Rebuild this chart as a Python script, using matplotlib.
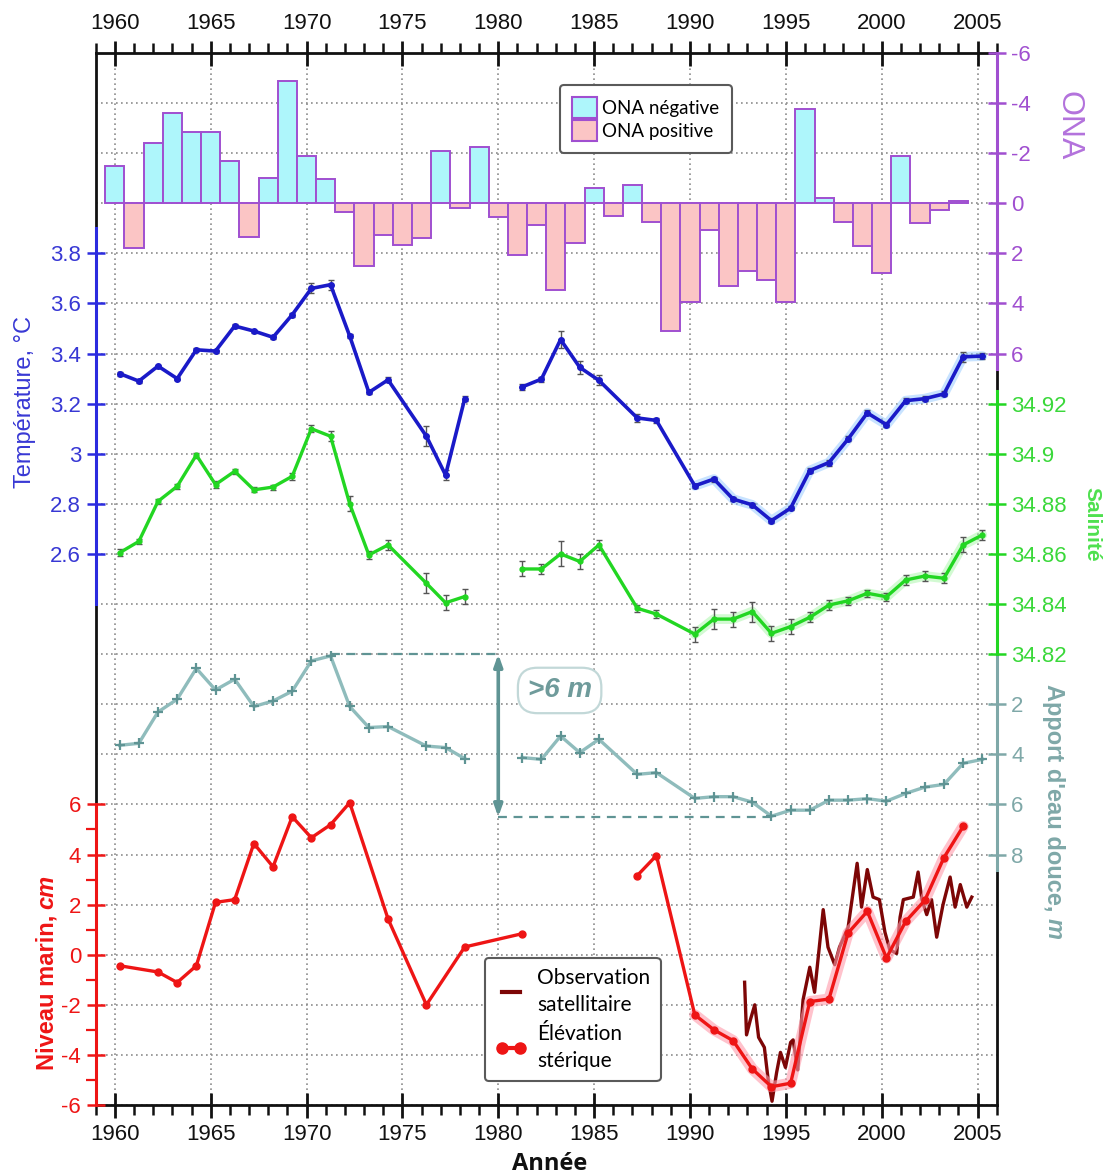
import numpy as np
import matplotlib
matplotlib.use("Agg")
import matplotlib.pyplot as plt
from matplotlib.patches import Patch
from matplotlib.lines import Line2D
from matplotlib.ticker import MultipleLocator, FixedLocator

plt.rcParams["font.family"] = ["Liberation Sans", "DejaVu Sans"]
plt.rcParams["axes.unicode_minus"] = False

# ONA index (winter), one bar per year
ona_years = list(range(1960, 2005))
ona = [-1.5, 1.8, -2.4, -3.6, -2.85, -2.85, -1.7, 1.35, -1.0, -4.9,
       -1.9, -0.95, 0.35, 2.5, 1.25, 1.65, 1.4, -2.1, 0.2, -2.25,
       0.55, 2.05, 0.85, 3.45, 1.6, -0.6, 0.5, -0.75, 0.75, 5.1,
       3.95, 1.05, 3.3, 2.7, 3.05, 3.95, -3.75, -0.2, 0.75, 1.7,
       2.8, -1.9, 0.8, 0.25, -0.08]

# hydrographic survey years (nan = no survey, breaks the line)
hydro_years = list(range(1960, 1975)) + [1976, 1977, 1978, 1980,
               1981, 1982, 1983, 1984, 1985, 1987, 1988] + list(range(1990, 2006))
nan = np.nan
temp = [3.32, 3.29, 3.35, 3.30, 3.415, 3.41, 3.51, 3.49, 3.465, 3.555,
        3.66, 3.675, 3.47, 3.245, 3.295,
        3.07, 2.915, 3.22, nan,
        3.267, 3.298, 3.456, 3.345, 3.293, 3.143, 3.133,
        2.872, 2.899, 2.819, 2.796, 2.733, 2.783, 2.933, 2.965, 3.059, 3.163,
        3.116, 3.212, 3.22, 3.239, 3.387, 3.39]
temp_err = [0.008, 0.006, 0.006, 0.006, 0.006, 0.006, 0.008, 0.006, 0.006, 0.008,
            0.02, 0.02, 0.008, 0.008, 0.01,
            0.04, 0.02, 0.01, nan,
            0.012, 0.01, 0.035, 0.025, 0.02, 0.015, 0.01,
            0.008, 0.01, 0.008, 0.008, 0.01, 0.008, 0.01, 0.012, 0.01, 0.01,
            0.01, 0.01, 0.01, 0.01, 0.02, 0.012]
salt = [34.8605, 34.865, 34.881, 34.887, 34.8995, 34.8877, 34.893, 34.8856, 34.8867, 34.891,
        34.910, 34.907, 34.880, 34.8596, 34.8636,
        34.8483, 34.8405, 34.843, nan,
        34.854, 34.854, 34.860, 34.857, 34.8636, 34.8383, 34.836,
        34.828, 34.834, 34.834, 34.837, 34.8283, 34.831, 34.8347, 34.8396, 34.8413, 34.8443,
        34.8429, 34.8496, 34.8512, 34.8503, 34.8636, 34.8676]
salt_err = [0.0015, 0.001, 0.001, 0.001, 0.001, 0.0015, 0.001, 0.001, 0.001, 0.0015,
            0.0015, 0.002, 0.003, 0.0015, 0.002,
            0.004, 0.003, 0.003, nan,
            0.003, 0.002, 0.005, 0.003, 0.002, 0.0015, 0.0015,
            0.003, 0.004, 0.003, 0.004, 0.003, 0.003, 0.002, 0.002, 0.0015, 0.0015,
            0.0015, 0.002, 0.002, 0.002, 0.003, 0.002]
freshwater = [3.64, 3.56, 2.31, 1.8, 0.57, 1.43, 1.0, 2.09, 1.87, 1.48,
              0.27, 0.07, 2.09, 2.93, 2.89,
              3.67, 3.73, 4.17, nan,
              4.13, 4.2, 3.27, 3.93, 3.4, 4.8, 4.73,
              5.76, 5.69, 5.69, 5.91, 6.47, 6.23, 6.23, 5.83, 5.83, 5.77,
              5.87, 5.56, 5.31, 5.2, 4.36, 4.2]

# steric height (cm)
sl_years = [1960, 1962, 1963, 1964, 1965, 1966, 1967, 1968, 1969, 1970, 1971, 1972,
            1974, 1976, 1978, 1981, 1984, 1987, 1988] + list(range(1990, 2005))
steric = [-0.44, -0.69, -1.11, -0.44, 2.09, 2.2, 4.44, 3.51, 5.51, 4.67, 5.19, 6.07,
          1.43, -2.0, 0.31, 0.84, nan, 3.16, 3.96,
          -2.4, -3.0, -3.43, -4.56, -5.27, -5.13, -1.87, -1.77, 0.87, 1.73,
          -0.13, 1.33, 2.17, 3.88, 5.12]

# satellite altimetry (cm)
sat_time = [1992.85, 1992.95, 1993.15, 1993.38, 1993.58, 1993.88, 1994.08, 1994.28,
            1994.52, 1994.72, 1994.98, 1995.25, 1995.38, 1995.62, 1995.9, 1996.25,
            1996.5, 1996.95, 1997.2, 1997.55, 1997.8, 1998.25, 1998.72, 1998.95,
            1999.25, 1999.55, 1999.88, 2000.17, 2000.42, 2000.78, 2000.96, 2001.13,
            2001.65, 2001.9, 2002.1, 2002.35, 2002.6, 2002.87, 2003.2, 2003.57,
            2003.83, 2004.1, 2004.44, 2004.7]
sat = [-1.1, -3.2, -2.6, -2.0, -3.3, -3.7, -5.0, -5.85, -4.7, -3.9, -4.5, -3.5,
       -3.4, -4.6, -1.8, -0.5, -1.5, 1.8, 0.3, -0.4, 0.3, 1.1, 3.65, 1.9, 3.4,
       2.3, 2.2, 0.9, 0.2, 0.05, 1.5, 2.2, 2.3, 3.3, 2.2, 1.6, 2.2, 0.7, 2.0,
       3.1, 1.9, 2.8, 1.9, 2.3]

temp_ticks = [2.6, 2.8, 3.0, 3.2, 3.4, 3.6, 3.8]
temp_labels = ["2.6", "2.8", "3", "3.2", "3.4", "3.6", "3.8"]
sl_ticks = [-6, -4, -2, 0, 2, 4, 6]
sl_minor = [-5, -3, -1, 1, 3, 5]
ona_ticks = [-6, -4, -2, 0, 2, 4, 6]
salt_ticks = [34.82, 34.84, 34.86, 34.88, 34.90, 34.92]
salt_labels = ["34.82", "34.84", "34.86", "34.88", "34.9", "34.92"]
fw_ticks = [2, 4, 6, 8]

C_TEMP, C_TEMP_LBL = "#1a1ac8", "#3838d4"
C_SALT, C_SALT_LBL = "#22d622", "#3ad83a"
C_FW, C_FW_DARK, C_FW_LBL = "#8fbcbc", "#5f9494", "#7fa8a8"
C_SL = "#ee1515"
C_SAT = "#7d0606"
C_ONA = "#a04fd0"
C_NEG, C_POS = "#aef6fb", "#fbc5c5"

W, H = 1106, 1175
fig = plt.figure(figsize=(W / 100, H / 100), dpi=100)

x0, x1, ytop, ybot = 95.7, 996.7, 53, 1105
ax = fig.add_axes([x0 / W, 1 - ybot / H, (x1 - x0) / W, (ybot - ytop) / H])
ax.set_xlim(1959, 2006)
ax.set_ylim(0, 21)
ax.set_yticks(np.arange(0, 22))
ax.xaxis.set_major_locator(MultipleLocator(5))
ax.xaxis.set_minor_locator(MultipleLocator(1))
ax.tick_params(axis="x", which="major", direction="inout", length=18, width=2,
               top=True, labeltop=True, labelsize=16, pad=5, colors="#111111")
ax.tick_params(axis="x", which="minor", direction="out", length=7, width=1.8, top=True,
               colors="#111111")
ax.grid(True, which="major", color="#8c8c8c", linestyle=(0, (1, 2)), linewidth=1.2)
for s in ax.spines.values():
    s.set_linewidth(2)
    s.set_color("#111111")


def twin(ylim, side, color, bounds, ticks, labels=None):
    t = ax.twinx()
    t.set_ylim(*ylim)
    for s in t.spines.values():
        s.set_visible(False)
    sp = t.spines[side]
    sp.set_visible(True)
    sp.set_color(color)
    sp.set_linewidth(2.2)
    sp.set_bounds(*bounds)
    sp.set_zorder(3)
    if side == "left":
        t.yaxis.tick_left()
    else:
        t.yaxis.tick_right()
    t.set_yticks(ticks)
    if labels is not None:
        t.set_yticklabels(labels)
    t.tick_params(axis="y", which="major", direction="inout", length=13, width=1.8,
                  color=color, labelsize=16, pad=4)
    return t


ax_ona = twin((36, -6), "right", C_ONA, (-6, 6.6), ona_ticks)
ax_fw = twin((18, -24), "right", C_FW_LBL, (0, 8.6), fw_ticks)
ax_salt = twin((34.64, 35.06), "right", C_SALT, (34.82, 34.925), salt_ticks, salt_labels)
ax_temp = twin((0.4, 4.6), "left", "#2b2bdf", (2.4, 3.9), temp_ticks, temp_labels)
ax_sl = twin((-6, 36), "left", C_SL, (-6, 6), sl_ticks)

# host keeps only the horizontal grid, no y ticks of its own
ax.tick_params(axis="y", which="both", left=False, right=False,
               labelleft=False, labelright=False)

for a, c in [(ax_ona, C_ONA), (ax_fw, C_FW_LBL), (ax_salt, C_SALT_LBL),
             (ax_temp, C_TEMP_LBL), (ax_sl, C_SL)]:
    for lbl in a.get_yticklabels():
        lbl.set_color(c)

ax_sl.yaxis.set_minor_locator(FixedLocator(sl_minor))
ax_sl.tick_params(axis="y", which="minor", direction="out", length=7, width=1.6,
                  color=C_SL, left=True)

# ONA bars
ona_colors = [C_NEG if v < 0 else C_POS for v in ona]
ax_ona.bar(ona_years, ona, width=1.0, color=ona_colors, edgecolor=C_ONA, linewidth=1.4)

hx = np.array(hydro_years) + 0.25
late = hx >= 1990

# freshwater
ax_fw.plot(hx, freshwater, color=C_FW, lw=2.4, marker="+", ms=7, mew=1.6,
           mec=C_FW_DARK)
ax_fw.plot([1971.25, 1980], [0, 0], color=C_FW_DARK, lw=1.6, ls=(0, (4, 3)))
ax_fw.plot([1980, 1994.3], [6.5, 6.5], color=C_FW_DARK, lw=1.6, ls=(0, (4, 3)))
ax_fw.annotate("", xy=(1980, 0.0), xytext=(1980, 6.5),
               arrowprops=dict(arrowstyle="<|-|>,head_length=0.7,head_width=0.25",
                               color=C_FW_DARK, lw=2.6, shrinkA=0, shrinkB=0))
ax_fw.text(1983.2, 1.45, ">6 m", ha="center", va="center", fontsize=20,
           fontweight="bold", style="italic", color="#6f9b9b",
           bbox=dict(boxstyle="round,pad=0.35,rounding_size=0.7", fc="white",
                     ec="#c2d8d8", lw=1.6))

# salinity
salt_a = np.array(salt)
ax_salt.plot(hx[late], salt_a[late], color="#9cf59c", lw=7, alpha=0.45,
             solid_capstyle="round")
ax_salt.errorbar(hx, salt, yerr=salt_err, color=C_SALT, lw=2.4, marker="o", ms=3.5,
                 ecolor="#555555", elinewidth=1, capsize=2.5)

# temperature
temp_a = np.array(temp)
ax_temp.plot(hx[late], temp_a[late], color="#86c2ff", lw=7, alpha=0.45,
             solid_capstyle="round")
ax_temp.errorbar(hx, temp, yerr=temp_err, color=C_TEMP, lw=2.6, marker="o", ms=4,
                 ecolor="#555555", elinewidth=1, capsize=2.5)

# sea level
slx = np.array(sl_years) + 0.25
st_a = np.array(steric)
ax_sl.plot(sat_time, sat, color=C_SAT, lw=2.4, zorder=2)
ax_sl.plot(slx[slx >= 1990], st_a[slx >= 1990], color="#ff9aaa", lw=8, alpha=0.6,
           solid_capstyle="round", zorder=3)
ax_sl.plot(slx, steric, color=C_SL, lw=2.4, marker="o", ms=5, zorder=4)

# legends
leg1 = fig.legend(handles=[Patch(facecolor=C_NEG, edgecolor=C_ONA, lw=1.5),
                           Patch(facecolor=C_POS, edgecolor=C_ONA, lw=1.5)],
                  labels=["ONA négative", "ONA positive"],
                  loc="upper left", bbox_to_anchor=(560 / W, 1 - 85 / H),
                  borderaxespad=0, prop={"family": "Lato", "size": 13.5},
                  handlelength=1.3, handleheight=1.3, handletextpad=0.3,
                  labelspacing=0.15, borderpad=0.65, fancybox=True, framealpha=1,
                  edgecolor="#5a5a5a")
leg1.get_frame().set_linewidth(1.5)
leg2 = fig.legend(handles=[Line2D([], [], color=C_SAT, lw=3),
                           Line2D([], [], color=C_SL, lw=3, marker="o", ms=8)],
                  labels=["Observation\nsatellitaire", "Élévation\nstérique"],
                  loc="upper left", bbox_to_anchor=(485 / W, 1 - 958 / H),
                  borderaxespad=0, prop={"family": "Lato", "size": 15},
                  handlelength=1.5, numpoints=2, handletextpad=0.5,
                  labelspacing=0.45, borderpad=0.5, fancybox=True, framealpha=1,
                  edgecolor="#5a5a5a")
leg2.get_frame().set_linewidth(1.5)
for txt in leg2.get_texts():
    txt.set_linespacing(1.4)

# axis titles
fig.text(25 / W, 1 - 402 / H, "Température, °C", rotation=90, ha="center", va="center",
         fontsize=17, color=C_TEMP_LBL)
fig.text(1068 / W, 1 - 126 / H, "ONA", rotation=270, ha="center", va="center",
         fontsize=23, color="#b372dc")
fig.text(1092 / W, 1 - 524 / H, "Salinité", rotation=270, ha="center", va="center",
         fontsize=15, fontweight="bold", color="#4ee04e")
fig.text(550 / W, 1 - 1164 / H, "Année", ha="center", va="center", fontsize=17,
         fontweight="bold", family="Open Sans", color="#111111")

fig.canvas.draw()
r = fig.canvas.get_renderer()

t1 = fig.text(47 / W, 1 - 1070 / H, "Niveau marin,", rotation=90, rotation_mode="anchor",
              ha="left", va="center", fontsize=17, fontweight="bold", color=C_SL)
bb = t1.get_window_extent(r)
fig.text(47 / W, (bb.y1 + 6) / H, "cm", rotation=90, rotation_mode="anchor",
         ha="left", va="center", fontsize=17, fontweight="bold", style="italic", color=C_SL)

t2 = fig.text(1054 / W, 1 - 684 / H, "Apport d'eau douce,", rotation=270,
              rotation_mode="anchor", ha="left", va="center", fontsize=17,
              fontweight="bold", color=C_FW_LBL)
bb = t2.get_window_extent(r)
fig.text(1054 / W, (bb.y0 - 6) / H, "m", rotation=270, rotation_mode="anchor",
         ha="left", va="center", fontsize=17, fontweight="bold", style="italic",
         color=C_FW_LBL)

fig.savefig("out.png", dpi=100)
